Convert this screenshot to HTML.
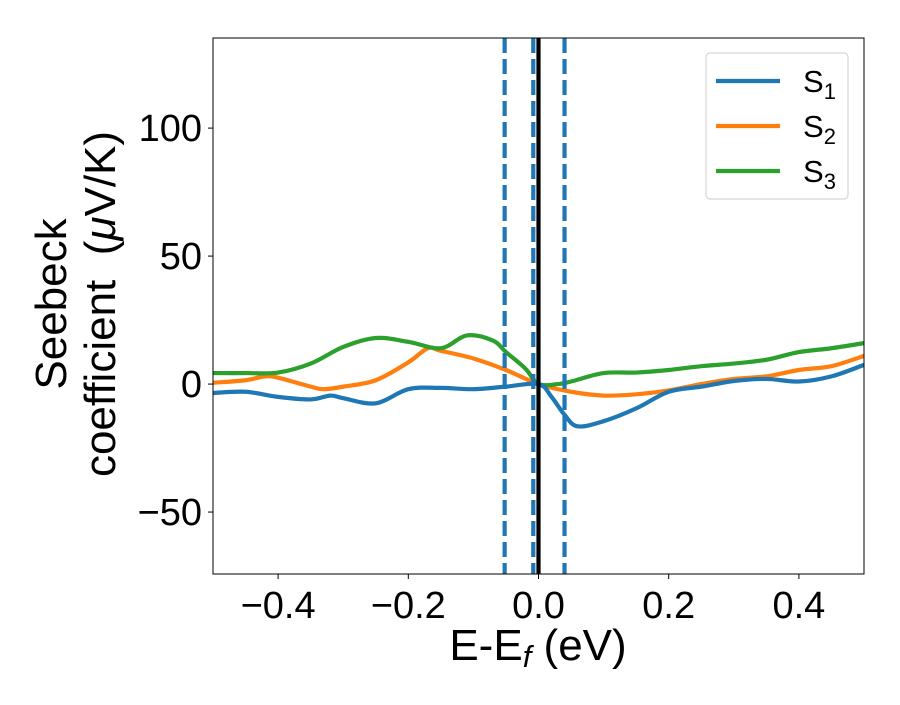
<!DOCTYPE html>
<html><head><meta charset="utf-8"><style>
body{margin:0;background:#fff}
svg{font-family:"Liberation Sans","DejaVu Sans",sans-serif}
</style></head><body>
<svg id="c" width="900" height="700"></svg>
<script>
const xs1=[-0.5,-0.45,-0.4,-0.35,-0.32,-0.3,-0.25,-0.2,-0.15,-0.1,-0.05,0,0.02,0.04,0.06,0.1,0.15,0.2,0.25,0.3,0.35,0.4,0.45,0.5];
const s1=[-3.5,-3,-5,-6,-4.5,-5.5,-7.5,-2,-1.5,-2,-1,0,-5,-12,-16.5,-14.5,-9.5,-3,-1,1.2,2,1,3,7.5];
const xs2=[-0.5,-0.45,-0.42,-0.4,-0.35,-0.33,-0.3,-0.25,-0.2,-0.17,-0.15,-0.1,-0.05,0,0.05,0.1,0.15,0.2,0.25,0.3,0.35,0.4,0.45,0.5];
const s2=[0.5,1.5,3,2.5,-1,-2,-1,1.5,8.5,14,13,10,5.5,0,-3,-4.5,-4,-2.5,0,2,3,5.5,7,11];
const xs3=[-0.5,-0.45,-0.4,-0.35,-0.3,-0.25,-0.2,-0.15,-0.11,-0.07,-0.05,-0.02,0,0.03,0.05,0.1,0.15,0.2,0.25,0.3,0.35,0.4,0.45,0.5];
const s3=[4.3,4.3,4.5,8,14.5,18,16.5,14,19,17,12.5,6,0,0,1,4.3,4.5,5.5,7,8,9.5,12.5,14,16];
const vdash=[-0.052,-0.008,0.04];
const xticks=[-0.4,-0.2,0,0.2,0.4];
const yticks=[-50,0,50,100];
const X0=213,X1=864,Y0=38,Y1=574,xmin=-0.5,xmax=0.5,ymin=-74.2,ymax=135.2;
const sx=v=>X0+(v-xmin)/(xmax-xmin)*(X1-X0);
const sy=v=>Y1-(v-ymin)/(ymax-ymin)*(Y1-Y0);
const svg=document.getElementById('c');const NS='http://www.w3.org/2000/svg';
function el(t,a,p){const e=document.createElementNS(NS,t);for(const k in a)e.setAttribute(k,a[k]);(p||svg).appendChild(e);return e;}
function fmt(v){return (v<0?'\u2212':'')+Math.abs(v).toFixed(1);}
const clip=el('clipPath',{id:'pc'});el('rect',{x:X0,y:Y0,width:X1-X0,height:Y1-Y0},clip);
function path(xs,ys){const p=xs.map((x,i)=>[sx(x),sy(ys[i])]);let d='M'+p[0][0]+','+p[0][1];
for(let i=0;i<p.length-1;i++){const a=p[Math.max(0,i-1)],b=p[i],c=p[i+1],e=p[Math.min(p.length-1,i+2)];
d+=`C${b[0]+(c[0]-a[0])/6},${b[1]+(c[1]-a[1])/6} ${c[0]-(e[0]-b[0])/6},${c[1]-(e[1]-b[1])/6} ${c[0]},${c[1]}`;}return d;}
const g=el('g',{'clip-path':'url(#pc)'});
[[xs2,s2,'#ff7f0e','series-s2'],[xs3,s3,'#2ca02c','series-s3'],[xs1,s1,'#1f77b4','series-s1']].forEach(([a,b,c,n])=>{
const l=el('path',{d:path(a,b),fill:'none',stroke:c,'stroke-width':4.2},g);

});
vdash.forEach(v=>{const l=el('line',{x1:sx(v),x2:sx(v),y1:Y0,y2:Y1,stroke:'#1f77b4','stroke-width':4.2,'stroke-dasharray':'15,6'});

});
const fl=el('line',{x1:sx(0),x2:sx(0),y1:Y0,y2:Y1,stroke:'#000','stroke-width':4.2});


const fr=el('rect',{x:X0,y:Y0,width:X1-X0,height:Y1-Y0,fill:'none',stroke:'#000','stroke-width':1});


xticks.forEach(v=>{el('line',{x1:sx(v),x2:sx(v),y1:Y1,y2:Y1+5,stroke:'#000'});
const t=el('text',{x:sx(v),y:Y1+44,'text-anchor':'middle','font-size':38});t.textContent=fmt(v);

});
yticks.forEach(v=>{el('line',{x1:X0-5,x2:X0,y1:sy(v),y2:sy(v),stroke:'#000'});
const t=el('text',{x:X0-11,y:sy(v)+13,'text-anchor':'end','font-size':38});t.textContent=(v<0?'\u2212':'')+Math.abs(v);

});
</script>
<svg width="900" height="700" style="position:absolute;left:0;top:0">
<text x="538" y="660" text-anchor="middle" font-size="44" font-family="Liberation Sans,sans-serif">E-E<tspan font-style="italic" font-size="31" dy="7">f</tspan><tspan dy="-7"> (eV)</tspan></text>
<g transform="translate(66,304) rotate(-90)" font-size="44" font-family="Liberation Sans,sans-serif">
<text x="0" y="0" text-anchor="middle">Seebeck</text>
<text x="0" y="49" text-anchor="middle" xml:space="preserve">coefficient  (<tspan font-style="italic">μ</tspan>V/K)</text>
</g>
<g font-family="Liberation Sans,sans-serif" font-size="31">
<rect x="706" y="53" width="142" height="146" rx="4" fill="#fff" stroke="#ccc"/>
<line x1="716" x2="780" y1="81" y2="81" stroke="#1f77b4" stroke-width="4.2"/>
<text x="803" y="92">S<tspan font-size="22" dy="7">1</tspan></text>
<line x1="716" x2="780" y1="126" y2="126" stroke="#ff7f0e" stroke-width="4.2"/>
<text x="803" y="137">S<tspan font-size="22" dy="7">2</tspan></text>
<line x1="716" x2="780" y1="171" y2="171" stroke="#2ca02c" stroke-width="4.2"/>
<text x="803" y="182">S<tspan font-size="22" dy="7">3</tspan></text>
</g>
</svg>
</body></html>
